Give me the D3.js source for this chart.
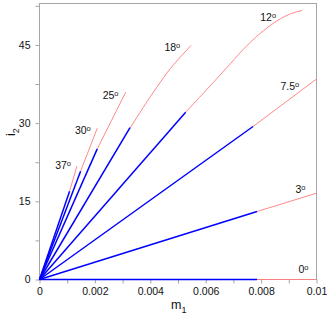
<!DOCTYPE html>
<html>
<head>
<meta charset="utf-8">
<script src="https://cdn.jsdelivr.net/npm/d3@7"></script>
<style>
  body { margin: 0; background: #fff; }
  svg { display: block; font-family: "Liberation Sans", Arial, sans-serif; }
</style>
</head>
<body>
<svg class="chart" width="327" height="317"></svg>
<script>
// angulos de cada curva
var angulos = ["0", "3", "7.5", "12", "18", "25", "30", "37"];

// fim do trecho azul (reta a partir da origem)
var azulM1 = [0.007854, 0.007854, 0.007709, 0.005277, 0.003268, 0.002085, 0.001484, 0.001086];
var azulI2 = [0, 13.04, 29.35, 32.09, 29.12, 25.07, 20.78, 16.94];

// trecho vermelho (continua a partir do fim do azul)
var vermelhoM1 = [
  [0.007854, 0.01],
  [0.007854, 0.01],
  [0.007709, 0.01],
  [0.005277, 0.006283, 0.006887, 0.007492, 0.008093, 0.008697, 0.009059, 0.009482],
  [0.003268, 0.00375, 0.004235, 0.004716, 0.005079, 0.005465],
  [0.002085, 0.0026, 0.003113],
  [0.001484, 0.002085],
  [0.001086, 0.00135]
];
var vermelhoI2 = [
  [0, 0],
  [13.04, 16.55],
  [29.35, 38.46],
  [32.09, 37.85, 41.38, 44.89, 47.77, 50.01, 50.97, 51.6],
  [29.02, 33.05, 36.89, 40.42, 42.64, 44.89],
  [25.07, 30.5, 35.93],
  [20.78, 29.02],
  [16.94, 21.73]
];

// onde fica o rotulo de cada angulo
var rotuloM1 = [0.00935, 0.00924, 0.0087, 0.00797, 0.00451, 0.00228, 0.001278, 0.000565];
var rotuloI2 = [1.34, 16.69, 36.26, 49.55, 43.8, 34.66, 27.95, 21.24];

// eixos
var xTicks = [0, 0.002, 0.004, 0.006, 0.008, 0.01];
var xTickLabels = ["0", "0.002", "0.004", "0.006", "0.008", "0.01"];
var xMinor = [0.001, 0.003, 0.005, 0.007, 0.009];
var yTicks = [0, 15, 30, 45];
var yTickLabels = ["0", "15", "30", "45"];
var yMinor = [7.5, 22.5, 37.5, 52.5];

var svg = d3.select(".chart");

var xScale = d3.scaleLinear().domain([0, 0.01]).range([39.5, 316.5]);
var yScale = d3.scaleLinear().domain([0, 52.95]).range([279.5, 3.5]);

var cinza = "#a6a6a6";

//desenha os eixos
var eixoX = svg.append("g")
  .attr("transform", "translate(0," + yScale(0) + ")")
  .call(d3.axisBottom(xScale).tickValues(xTicks).tickSize(4).tickPadding(4)
    .tickFormat(function(d, i) { return xTickLabels[i]; }));
svg.append("g")
  .attr("transform", "translate(0," + yScale(0) + ")")
  .call(d3.axisBottom(xScale).tickValues(xMinor).tickSize(4).tickFormat(""));

var eixoY = svg.append("g")
  .attr("transform", "translate(" + xScale(0) + ",0)")
  .call(d3.axisLeft(yScale).tickValues(yTicks).tickSize(4).tickPadding(5)
    .tickFormat(function(d, i) { return yTickLabels[i]; }));
svg.append("g")
  .attr("transform", "translate(" + xScale(0) + ",0)")
  .call(d3.axisLeft(yScale).tickValues(yMinor).tickSize(4).tickFormat(""));

svg.selectAll(".domain").remove();
svg.selectAll(".tick line").attr("stroke", cinza);
svg.selectAll(".tick text")
  .attr("font-size", 10.5)
  .attr("font-family", "Liberation Sans, Arial, sans-serif")
  .attr("fill", "#111");

// moldura
svg.append("rect")
  .attr("x", xScale(0))
  .attr("y", yScale(52.95))
  .attr("width", xScale(0.01) - xScale(0))
  .attr("height", yScale(0) - yScale(52.95))
  .attr("fill", "none")
  .attr("stroke", cinza)
  .attr("stroke-width", 1);

var linha = d3.line()
  .x(function(d) { return xScale(d[0]); })
  .y(function(d) { return yScale(d[1]); })
  .curve(d3.curveMonotoneX);

// trechos vermelhos
svg.selectAll(".vermelho")
  .data(angulos)
  .enter()
  .append("path")
  .attr("class", "vermelho")
  .attr("d", function(d, i) {
    return linha(d3.zip(vermelhoM1[i], vermelhoI2[i]));
  })
  .attr("fill", "none")
  .attr("stroke", "#ff7a7a")
  .attr("stroke-width", 0.9);

// retas azuis
svg.selectAll(".azul")
  .data(angulos)
  .enter()
  .append("line")
  .attr("class", "azul")
  .attr("x1", xScale(0))
  .attr("y1", yScale(0))
  .attr("x2", function(d, i) { return xScale(azulM1[i]); })
  .attr("y2", function(d, i) { return yScale(azulI2[i]); })
  .attr("stroke", "#0000ff")
  .attr("stroke-width", 1.5);

// rotulos dos angulos
var rotulos = svg.selectAll(".rotulo")
  .data(angulos)
  .enter()
  .append("text")
  .attr("class", "rotulo")
  .attr("x", function(d, i) { return xScale(rotuloM1[i]); })
  .attr("y", function(d, i) { return yScale(rotuloI2[i]); })
  .attr("font-size", 10.5)
  .attr("fill", "#111")
  .text(function(d) { return d; });
rotulos.append("tspan")
  .attr("font-size", 7.5)
  .attr("dy", -3)
  .text("o");

// titulos dos eixos
var tituloX = svg.append("text")
  .attr("x", 171)
  .attr("y", 309)
  .attr("font-size", 12.5)
  .attr("fill", "#111")
  .text("m");
tituloX.append("tspan").attr("font-size", 9).attr("dy", 3.5).text("1");

var tituloY = svg.append("text")
  .attr("transform", "translate(15,136) rotate(-90)")
  .attr("font-size", 12.5)
  .attr("fill", "#111")
  .text("i");
tituloY.append("tspan").attr("font-size", 9).attr("dy", 3.5).text("2");
</script>
</body>
</html>
